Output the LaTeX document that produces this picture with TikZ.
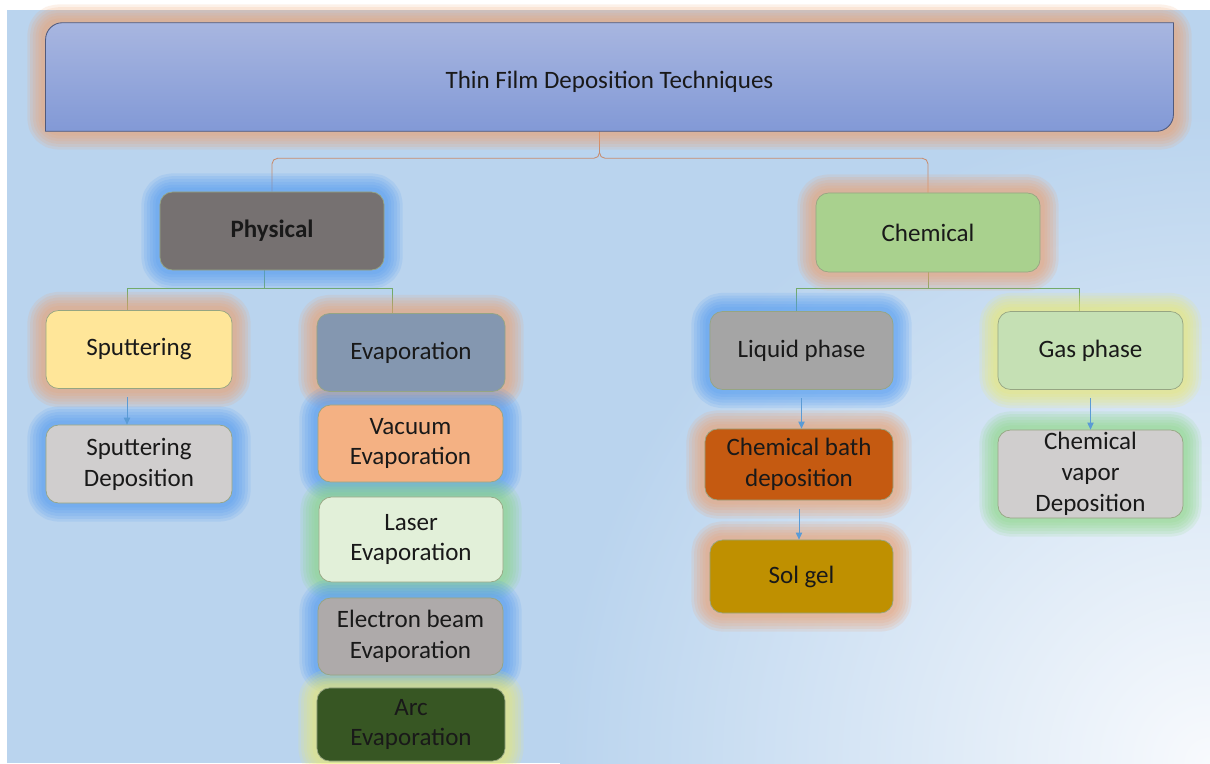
\documentclass[tikz,border=0pt]{standalone}
\usepackage{fontspec}
\setmainfont{Carlito}
\usetikzlibrary{arrows.meta,backgrounds}

\definecolor{bgblue}{RGB}{186,212,238}
\definecolor{bglight}{RGB}{248,250,253}
\definecolor{titletop}{RGB}{168,182,224}
\definecolor{titlebot}{RGB}{130,153,214}
\definecolor{titleline}{RGB}{80,90,125}
\definecolor{glowor}{RGB}{240,158,105}
\definecolor{glowbl}{RGB}{75,152,245}
\definecolor{glowgr}{RGB}{135,215,125}
\definecolor{glowye}{RGB}{238,236,105}
\definecolor{linkor}{RGB}{200,140,110}
\definecolor{linkgr}{RGB}{115,170,105}
\definecolor{arrowbl}{RGB}{91,155,213}
\definecolor{edgegr}{RGB}{150,165,130}
\definecolor{physfill}{HTML}{767171}
\definecolor{chemfill}{HTML}{A9D18E}
\definecolor{sputfill}{HTML}{FFE699}
\definecolor{greyfill}{HTML}{D0CECE}
\definecolor{evapfill}{HTML}{8497B0}
\definecolor{vacfill}{HTML}{F4B183}
\definecolor{laserfill}{HTML}{E2F0D9}
\definecolor{ebeamfill}{HTML}{AEAAAA}
\definecolor{arcfill}{HTML}{375623}
\definecolor{liqfill}{HTML}{A5A5A5}
\definecolor{gasfill}{HTML}{C5E0B4}
\definecolor{cbdfill}{HTML}{C55A11}
\definecolor{solfill}{HTML}{BF9000}

\newcommand\boxfont{\fontsize{17.8}{22}\selectfont}

\tikzset{
  tech/.style={draw=edgegr, line width=.5pt, rounded corners=9pt, align=center, font=\boxfont,
    text=black!90, minimum width=4.65cm, minimum height=1.95cm, inner sep=1pt},
  glow/.style={draw=#1, draw opacity=.14, line join=round, rounded corners=9pt},
  link/.style={draw=#1, line width=.6pt},
  flow/.style={draw=arrowbl, line width=.6pt, -{Triangle[length=5pt,width=4.5pt]}, shorten <=6pt},
}

\begin{document}
\begin{tikzpicture}[x=0.025cm,y=-0.025cm]
\useasboundingbox (0,0) rectangle (1210,763);

% title
\node[minimum width=28.175cm, minimum height=2.7cm, font=\boxfont, text=black!90,
  text height=19.8pt, text depth=4pt] (title) at (609.5,77) {Thin Film Deposition Techniques};

% physical branch
\node[tech, fill=physfill, minimum width=5.6cm] (phys) at (272,231) {\textbf{Physical}};
\node[tech, fill=sputfill] (sput) at (139,349.5) {Sputtering};
\node[tech, fill=greyfill] (sputdep) at (139,464) {Sputtering\\Deposition};
\node[tech, fill=evapfill, minimum width=4.7cm] (evap) at (411,352.5) {Evaporation};
\node[tech, fill=vacfill, minimum width=4.625cm, minimum height=1.925cm] (vac) at (410.5,443.5) {Vacuum\\Evaporation};
\node[tech, fill=laserfill, minimum width=4.6cm, minimum height=2.125cm] (laser) at (411,539.5) {Laser\\Evaporation};
\node[tech, fill=ebeamfill, minimum width=4.625cm, minimum height=1.925cm] (ebeam) at (410.5,636.5) {Electron beam\\Evaporation};
\node[tech, fill=arcfill, minimum width=4.7cm, minimum height=1.825cm] (arc) at (411,724.5) {Arc\\Evaporation};

% chemical branch
\node[tech, fill=chemfill, minimum width=5.6cm, minimum height=1.975cm] (chem) at (928,232.5) {Chemical};
\node[tech, fill=liqfill, minimum width=4.575cm] (liq) at (801.5,350.5) {Liquid phase};
\node[tech, fill=gasfill, minimum width=4.625cm] (gas) at (1090.5,350.5) {Gas phase};
\node[tech, fill=cbdfill, minimum width=4.7cm, minimum height=1.775cm] (cbd) at (799,464.5) {Chemical bath\\deposition};
\node[tech, fill=solfill, minimum width=4.575cm, minimum height=1.825cm] (sol) at (801.5,576.5) {Sol gel};
\node[tech, fill=greyfill, minimum width=4.625cm, minimum height=2.2cm] (cvd) at (1090.5,474) {Chemical\\vapor\\Deposition};

% arrows
\draw[flow] ([xshift=-.3cm]sput.south) -- ([xshift=-.3cm]sputdep.north);
\draw[flow] (liq.south) -- (liq.south |- cbd.north);
\draw[flow] (cbd.south) -- (cbd.south |- sol.north);
\draw[flow] (gas.south) -- (gas.south |- cvd.north);

\begin{scope}[on background layer]
  % backdrop
  \fill[white] (0,0) rectangle (1210,763);
  \fill[bgblue] (7,10) rectangle (1210,763);
  \begin{scope}
    \clip (7,10) rectangle (1210,763);
    \shade[inner color=bglight, outer color=bgblue] (1210,763) circle (650);
  \end{scope}

  % tree lines
  \draw[link=linkor, rounded corners=4pt] ([xshift=-.25cm]title.south) -- ++(0,27) -| (phys.north);
  \draw[link=linkor, rounded corners=4pt] ([xshift=-.25cm]title.south) -- ++(0,27) -| (chem.north);
  \draw[link=linkgr] ([xshift=-.2cm]phys.south) -- ++(0,18) -| ([xshift=-.3cm]sput.north);
  \draw[link=linkgr] ([xshift=-.2cm]phys.south) -- ++(0,18) -| ([xshift=-.475cm]evap.north);
  \draw[link=linkgr] (chem.south) -- ++(0,16) -| ([xshift=-.125cm]liq.north);
  \draw[link=linkgr] (chem.south) -- ++(0,16) -| ([xshift=-.275cm]gas.north);

  % glows
  \foreach \n/\c in {title/glowor, phys/glowbl, chem/glowor, sput/glowor, sputdep/glowbl,
      evap/glowor, vac/glowbl, laser/glowgr, ebeam/glowbl, arc/glowye,
      liq/glowbl, gas/glowye, cbd/glowor, sol/glowor, cvd/glowgr}
    \foreach \w in {6,10,14,18,22,26}
      \draw[glow=\c, line width=\w pt] (\n.south west) rectangle (\n.north east);

  % title box
  \draw[draw=titleline, line width=.6pt, top color=titletop, bottom color=titlebot]
    (title.south west) -- ([yshift=-12pt]title.north west) arc[start angle=180, end angle=90, radius=12pt]
    -- (title.north east) -- ([yshift=12pt]title.south east) arc[start angle=0, end angle=-90, radius=12pt] -- cycle;
\end{scope}
\end{tikzpicture}
\end{document}
